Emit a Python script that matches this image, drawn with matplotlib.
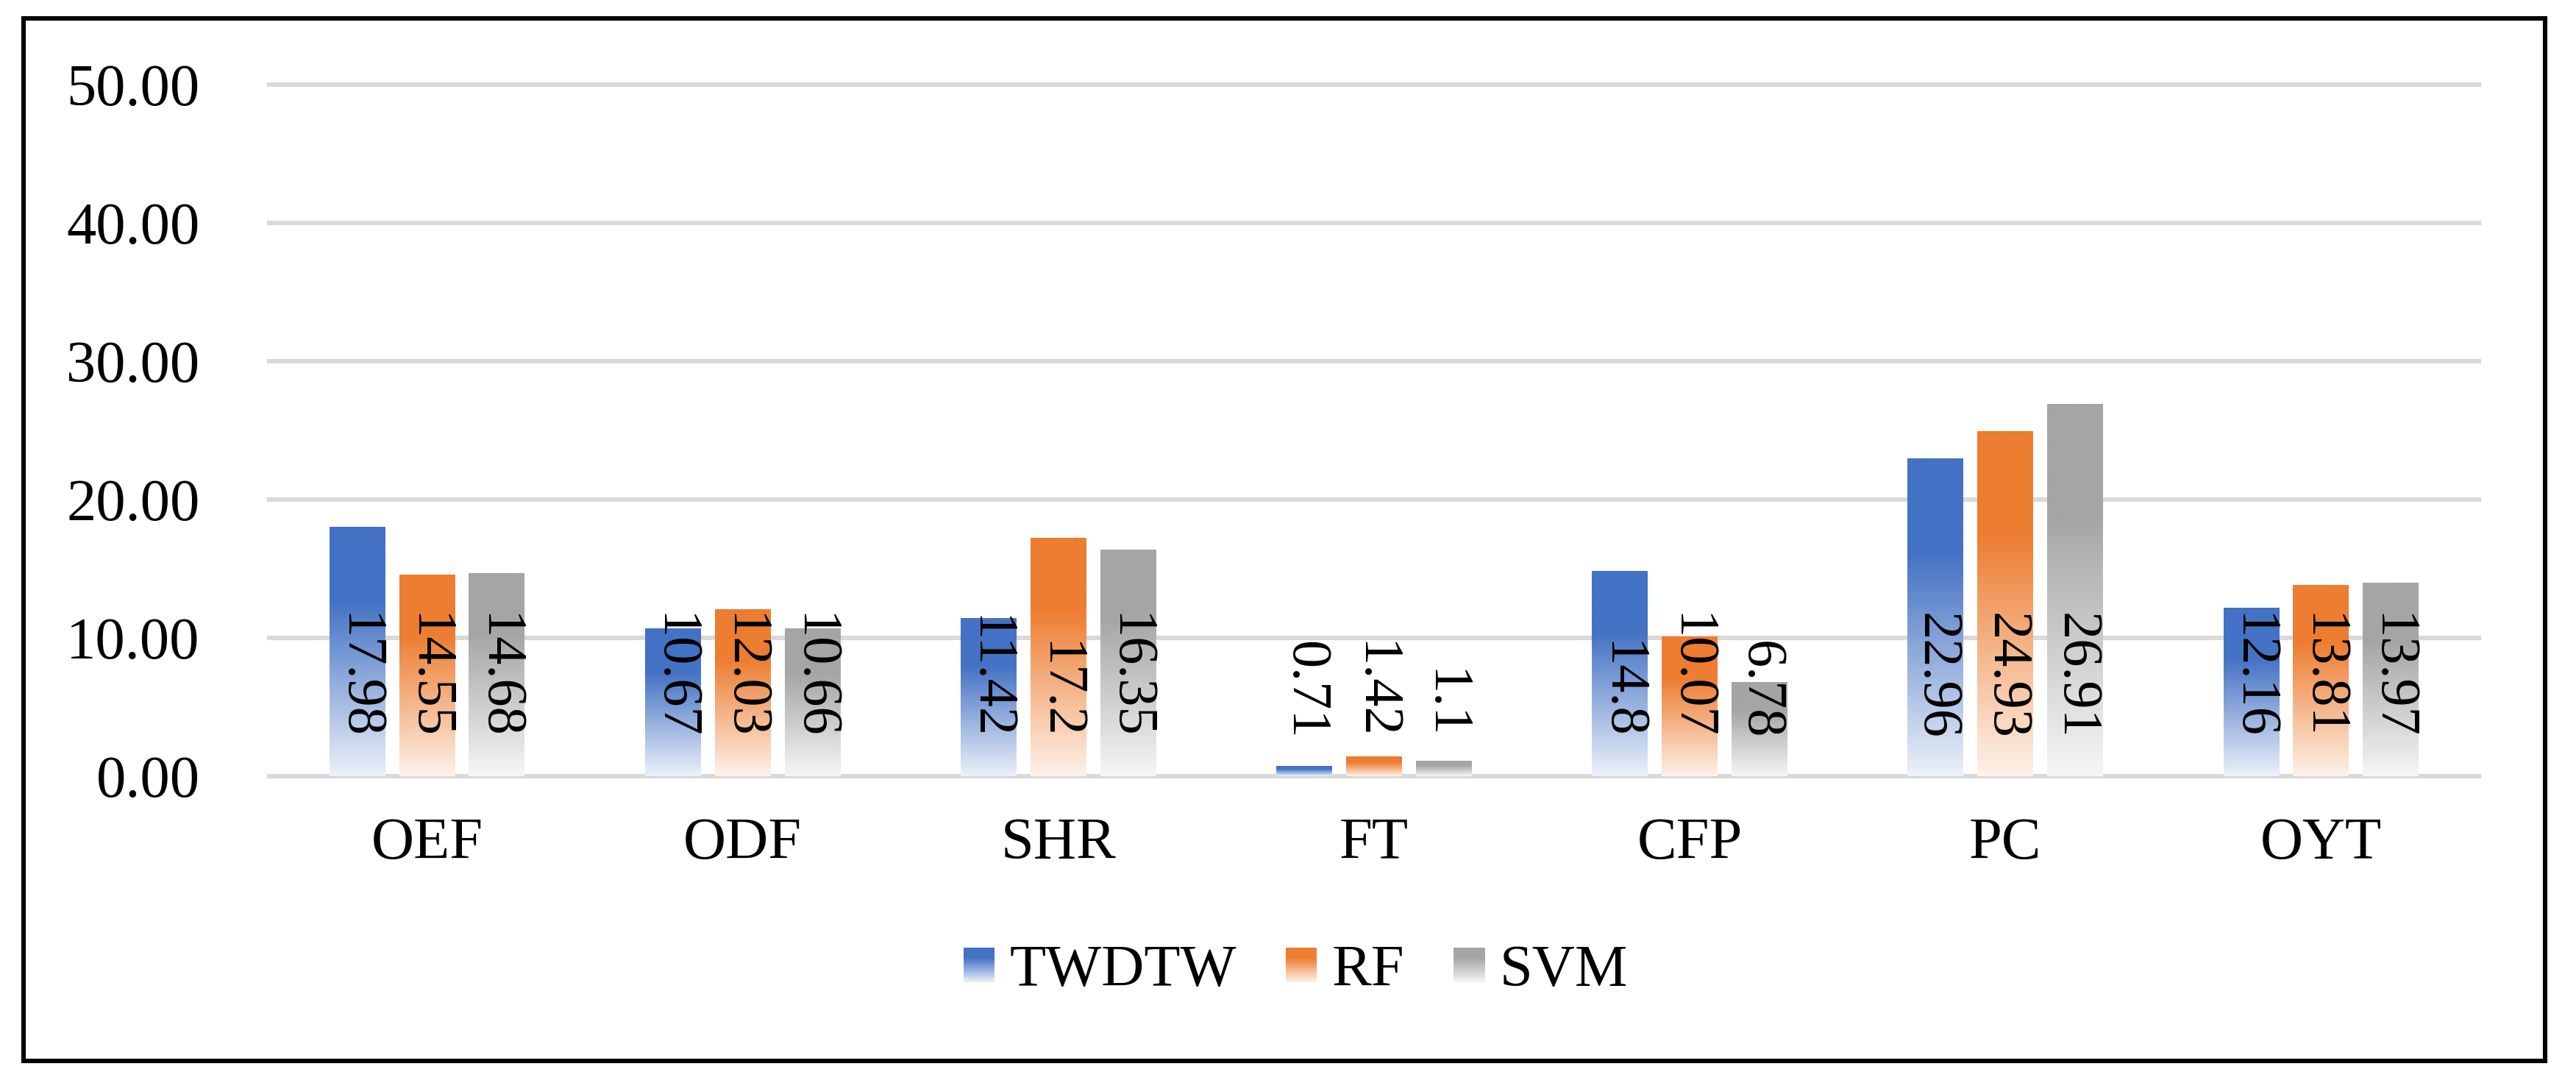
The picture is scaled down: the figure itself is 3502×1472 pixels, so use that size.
import numpy as np
import matplotlib
matplotlib.use('Agg')
import matplotlib.pyplot as plt
from matplotlib.patches import Patch, Rectangle
from matplotlib.legend_handler import HandlerBase

plt.rcParams['font.family'] = ['Liberation Serif', 'DejaVu Serif']

categories = ['OEF', 'ODF', 'SHR', 'FT', 'CFP', 'PC', 'OYT']
series_names = ['TWDTW', 'RF', 'SVM']
twdtw = [17.98, 10.67, 11.42, 0.71, 14.8, 22.96, 12.16]
rf = [14.55, 12.03, 17.2, 1.42, 10.07, 24.93, 13.81]
svm = [14.68, 10.66, 16.35, 1.1, 6.78, 26.91, 13.97]
y_ticks = [0, 10, 20, 30, 40, 50]

colors = ['#4472C4', '#ED7D31', '#A5A5A5']


def grad_rgb(color, f):
    # f: 0 at top of bar, 1 at bottom; solid for first 30%, then fade to a pale tint
    c = np.array(matplotlib.colors.to_rgb(color))
    pale = 1 - 0.1 * (1 - c)
    t = np.clip((f - 0.3) / 0.7, 0, 1)
    return c * (1 - t) + pale * t


def grad_image(color, n=256):
    f = np.linspace(0, 1, n)
    return np.array([grad_rgb(color, v) for v in f]).reshape(n, 1, 3)


class GradientHandler(HandlerBase):
    def __init__(self, color):
        super().__init__()
        self.color = color

    def create_artists(self, legend, orig_handle, xdescent, ydescent,
                       width, height, fontsize, trans):
        n = 40
        arts = []
        for i in range(n):
            y0 = -ydescent + height * (1 - (i + 1) / n)
            r = Rectangle((-xdescent, y0), width, height / n * 1.05,
                          facecolor=grad_rgb(self.color, (i + 0.5) / n),
                          linewidth=0, transform=trans)
            arts.append(r)
        return arts


fig = plt.figure(figsize=(17.51, 7.36), dpi=200)
ax = fig.add_axes([0.1045, 0.2833, 0.8578, 0.6386])

x = np.arange(len(categories))
step = 0.221
width = 0.177
for k, vals in enumerate([twdtw, rf, svm]):
    bars = ax.bar(x + (k - 1) * step, vals, width, facecolor='none',
                  linewidth=0, zorder=1)
    img = grad_image(colors[k])
    for b, v in zip(bars, vals):
        x0 = b.get_x()
        ax.imshow(img, extent=[x0, x0 + b.get_width(), 0, b.get_height()],
                  aspect='auto', origin='upper', zorder=2,
                  interpolation='bilinear')
        ax.annotate(f'{v:g}', xy=(x0 + b.get_width() / 2, 0),
                    xytext=(0, 18), textcoords='offset points',
                    rotation=270, ha='center', va='bottom', fontsize=27.5,
                    zorder=4)

ax.set_xlim(-0.5, len(categories) - 0.5)
ax.set_ylim(0, 50)
ax.set_yticks(y_ticks)
ax.set_yticklabels([f'{t:.2f}' for t in y_ticks])
ax.set_xticks(x)
ax.set_xticklabels(categories)
ax.tick_params(axis='y', length=0, pad=34, labelsize=29)
ax.tick_params(axis='x', length=0, pad=20, labelsize=29)
for s in ax.spines.values():
    s.set_visible(False)
ax.yaxis.grid(True, color='#D9D9D9', linewidth=2.2)
ax.set_axisbelow(True)
for gl in ax.get_ygridlines():
    gl.set_clip_on(False)

handles = [Patch(label=n) for n in series_names]
hmap = {h: GradientHandler(c) for h, c in zip(handles, colors)}
fig.legend(handles=handles, handler_map=hmap, loc='center',
           bbox_to_anchor=(0.503, 0.103), ncol=3, frameon=False,
           fontsize=29, handlelength=0.53, handleheight=0.53,
           handletextpad=0.25, columnspacing=0.83)

fig.patches.append(Rectangle((0.00914, 0.0204), 0.988 - 0.00914, 0.983 - 0.0204,
                             transform=fig.transFigure, fill=False,
                             edgecolor='black', linewidth=2.2))

fig.savefig('out.png', dpi=200, facecolor='white')
